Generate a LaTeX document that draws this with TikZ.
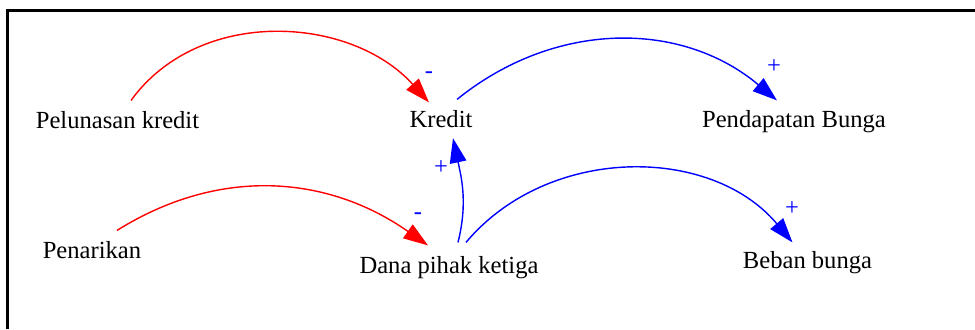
\documentclass[tikz,border=0pt]{standalone}
\usepackage{fontspec}
\setmainfont{Liberation Serif}
\usetikzlibrary{arrows.meta,positioning}
\tikzset{
  var/.style={font=\fontsize{14}{16}\selectfont, text height=10pt, text depth=3.5pt,
              inner xsep=2pt, inner ysep=5.5pt, anchor=base},
  sgn/.style={font=\fontsize{14}{16}\selectfont, text=blue, anchor=base, inner sep=0pt},
  lnkr/.style={-{Triangle[length=14pt,width=9.5pt]}, red, line width=0.8pt},
  lnkb/.style={-{Triangle[length=14pt,width=9.5pt]}, blue, line width=0.8pt},
}
\begin{document}
\begin{tikzpicture}[x=0.02cm,y=0.02cm]
  \useasboundingbox (0,0) rectangle (975,329);
  \draw[line width=1.4pt] (7.5,0) -- (7.5,318.5) -- (975,318.5);

  % variables
  \node[var] (pelunasan) at (117.5,201) {Pelunasan kredit};
  \node[var] (kredit) at (441,202) {Kredit};
  \node[var] (pendapatan) at (794,202) {Pendapatan Bunga};
  \node[var] (penarikan) at (92,71) {Penarikan};
  \node[var] (dana) at (449,56) {Dana pihak ketiga};
  \node[var] (beban) at (807.5,61) {Beban bunga};

  % links
  \draw[lnkr] ([shift={(13.5,0)}]pelunasan.north) to[out=54,in=132] ([shift={(-12,-3)}]kredit.north);
  \draw[lnkr] ([shift={(25,0)}]penarikan.north) to[out=32,in=145] ([shift={(-21,0)}]dana.north);
  \draw[lnkb] ([shift={(16,0)}]kredit.north) to[out=39,in=140] ([shift={(-17,-1)}]pendapatan.north);
  \draw[lnkb] ([shift={(9,3)}]dana.north) to[out=76,in=-78] ([shift={(12,5)}]kredit.south);
  \draw[lnkb] ([shift={(17,3)}]dana.north) to[out=50,in=130] ([shift={(-15,-2)}]beban.north);

  % polarities
  \node[sgn] (sgnPel) at (429,250.4) {-};
  \node[sgn] (sgnPen) at (418,109.4) {-};
  \node[sgn] (sgnPend) at (774,255.8) {+};
  \node[sgn] (sgnKre) at (441,154.8) {+};
  \node[sgn] (sgnBeb) at (792,113.8) {+};
\end{tikzpicture}
\end{document}
